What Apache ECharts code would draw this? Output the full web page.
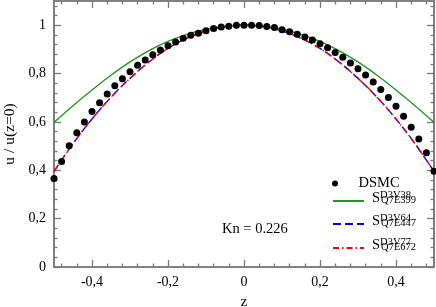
<!DOCTYPE html>
<html><head><meta charset="utf-8">
<script src="https://cdn.jsdelivr.net/npm/echarts@6/dist/echarts.min.js"></script>
<style>html,body{margin:0;padding:0;background:#fff}#c{width:436px;height:307px}</style>
</head><body><div id="c"></div>
<script>
// ---- data ----
const zDsmc = [-0.50,-0.48,-0.46,-0.44,-0.42,-0.40,-0.38,-0.36,-0.34,-0.32,-0.30,-0.28,-0.26,-0.24,-0.22,-0.20,-0.18,-0.16,-0.14,-0.12,-0.10,-0.08,-0.06,-0.04,-0.02,0.00,0.02,0.04,0.06,0.08,0.10,0.12,0.14,0.16,0.18,0.20,0.22,0.24,0.26,0.28,0.30,0.32,0.34,0.36,0.38,0.40,0.42,0.44,0.46,0.48,0.50];
const uDsmc = [0.366,0.436,0.501,0.555,0.600,0.643,0.679,0.715,0.750,0.778,0.807,0.834,0.856,0.878,0.897,0.915,0.930,0.946,0.958,0.967,0.977,0.986,0.992,0.996,1.000,1.000,1.000,0.999,0.995,0.990,0.981,0.973,0.962,0.951,0.939,0.923,0.907,0.887,0.867,0.844,0.820,0.794,0.765,0.734,0.701,0.665,0.623,0.578,0.529,0.472,0.396];
const zCurve = [-0.50,-0.45,-0.40,-0.35,-0.30,-0.25,-0.20,-0.15,-0.10,-0.05,0.00,0.05,0.10,0.15,0.20,0.25,0.30,0.35,0.40,0.45,0.50];
const uD3V38 = [0.598,0.667,0.732,0.793,0.848,0.895,0.933,0.962,0.983,0.996,1.000,0.996,0.983,0.962,0.933,0.895,0.848,0.793,0.732,0.667,0.598];
const uD3V64 = [0.395,0.510,0.612,0.702,0.780,0.848,0.904,0.946,0.976,0.994,1.000,0.994,0.976,0.946,0.904,0.848,0.780,0.702,0.612,0.510,0.395];
const uD3V77 = [0.395,0.510,0.612,0.702,0.780,0.848,0.904,0.946,0.976,0.994,1.000,0.994,0.976,0.946,0.904,0.848,0.780,0.702,0.612,0.510,0.395];
const xMajorTicks = [-0.4,-0.2,0,0.2,0.4];
const xMinorTicks = [-0.48,-0.44,-0.36,-0.32,-0.28,-0.24,-0.16,-0.12,-0.08,-0.04,0.04,0.08,0.12,0.16,0.24,0.28,0.32,0.36,0.44,0.48];
const yMajorTicks = [0,0.2,0.4,0.6,0.8,1];
const yMinorTicks = [0.04,0.08,0.12,0.16,0.24,0.28,0.32,0.36,0.44,0.48,0.52,0.56,0.64,0.68,0.72,0.76,0.84,0.88,0.92,0.96,1.04,1.08];
const seriesNames = ['DSMC','S D3V38 Q7E399','S D3V64 Q7E447','S D3V77 Q7E672'];
const kernelSup = ['D3V38','D3V64','D3V77'];
const kernelSub = ['Q7E399','Q7E447','Q7E672'];
const annotation = 'Kn = 0.226';
const xTitle = 'z';
const yTitle = 'u / u(z=0)';

// ---- styles ----
const FONT = 'Liberation Serif';
const AX = '#7a7a7a';
const fmt = v => String(v).replace('.', ',');
function zip(a, b) { return a.map((v, i) => [v, b[i]]); }

function xAxis(pos, ticks, len, withLabels, extra) {
  return Object.assign({
    type: 'value', position: pos, min: -0.5, max: 0.5,
    axisLine: { show: true, onZero: false, lineStyle: { color: AX, width: 1.6 } },
    axisTick: { show: true, inside: true, length: len, customValues: ticks, lineStyle: { color: AX, width: 1.3 } },
    axisLabel: { show: withLabels, customValues: ticks, formatter: fmt, margin: 8,
      fontFamily: FONT, fontSize: 14, color: '#000' },
    splitLine: { show: false }
  }, extra || {});
}
function yAxis(pos, ticks, len, withLabels, extra) {
  return Object.assign({
    type: 'value', position: pos, min: 0, max: 1.1,
    axisLine: { show: true, onZero: false, lineStyle: { color: AX, width: 1.6 } },
    axisTick: { show: true, inside: true, length: len, customValues: ticks, lineStyle: { color: AX, width: 1.3 } },
    axisLabel: { show: withLabels, customValues: ticks, formatter: fmt, margin: 8,
      fontFamily: FONT, fontSize: 14, color: '#000' },
    splitLine: { show: false }
  }, extra || {});
}

const richS = {
  s: { fontFamily: FONT, fontSize: 14.5, color: '#000', lineHeight: 16, verticalAlign: 'bottom' },
  sup: { fontFamily: FONT, fontSize: 10.5, color: '#000', lineHeight: 10, verticalAlign: 'top', width: 1 },
  sub: { fontFamily: FONT, fontSize: 10.5, color: '#000', lineHeight: 10, verticalAlign: 'bottom' },
  d: { fontFamily: FONT, fontSize: 14.5, color: '#000' }
};
function legendFmt(name) {
  const i = seriesNames.indexOf(name);
  if (i === 0) return '{d|DSMC}';
  return '{s|S}{sup|' + kernelSup[i - 1] + '}{sub|' + kernelSub[i - 1] + '}';
}
function legend(name, top, h, hideSymbol) {
  const l = { data: [name], left: 332, top: top, padding: 0, itemWidth: 31, itemHeight: h,
    orient: 'vertical', selectedMode: false, formatter: legendFmt,
    textStyle: { rich: richS, padding: hideSymbol ? [0, 0, 6, 3] : [0, 0, 0, 3] } };
  if (hideSymbol) l.itemStyle = { opacity: 0 };
  return l;
}

const chart = echarts.init(document.getElementById('c'), null, { renderer: 'canvas' });
chart.setOption({
  animation: false,
  backgroundColor: '#fff',
  grid: { left: 54, right: 2, top: 1, bottom: 40, containLabel: false, outerBoundsMode: 'none' },
  xAxis: [
    xAxis('bottom', xMajorTicks, 7, true, { name: xTitle, nameLocation: 'middle', nameGap: 24,
      nameTextStyle: { fontFamily: FONT, fontSize: 15.5, color: '#000' } }),
    xAxis('bottom', xMinorTicks, 3.5, false),
    xAxis('top', xMajorTicks, 7, false),
    xAxis('top', xMinorTicks, 3.5, false)
  ],
  yAxis: [
    yAxis('left', yMajorTicks, 7, true, { name: yTitle, nameLocation: 'middle', nameGap: 36,
      nameTextStyle: { fontFamily: FONT, fontSize: 15.5, color: '#000' } }),
    yAxis('left', yMinorTicks, 3.5, false),
    yAxis('right', yMajorTicks, 7, false),
    yAxis('right', yMinorTicks, 3.5, false)
  ],
  legend: [
    legend(seriesNames[0], 176, 6, false),
    legend(seriesNames[1], 190, 8, true),
    legend(seriesNames[2], 213, 8, true),
    legend(seriesNames[3], 237, 8, true)
  ],
  graphic: [{
    type: 'text', left: 222, top: 222,
    style: { text: annotation, fontFamily: FONT, fontSize: 14.5, fill: '#000' }
  }],
  series: [
    { name: seriesNames[0], type: 'scatter', xAxisIndex: 0, yAxisIndex: 0, z: 5,
      symbol: 'circle', symbolSize: 7, itemStyle: { color: '#000', opacity: 1 }, data: zip(zDsmc, uDsmc) },
    { name: seriesNames[1], type: 'line', xAxisIndex: 0, yAxisIndex: 0, z: 2, smooth: 0.4,
      symbol: 'none', color: '#1f9a1f', lineStyle: { color: '#1f9a1f', width: 1.4 }, data: zip(zCurve, uD3V38) },
    { name: seriesNames[2], type: 'line', xAxisIndex: 0, yAxisIndex: 0, z: 3, smooth: 0.4,
      symbol: 'none', color: '#0000ff', lineStyle: { color: '#0000ff', width: 1.4, type: [8, 4] }, data: zip(zCurve, uD3V64) },
    { name: seriesNames[3], type: 'line', xAxisIndex: 0, yAxisIndex: 0, z: 4, smooth: 0.4,
      symbol: 'none', color: '#ff0000', lineStyle: { color: '#ff0000', width: 1.4, type: [6, 3, 1.5, 3] }, data: zip(zCurve, uD3V77) }
  ]
});
</script></body></html>
